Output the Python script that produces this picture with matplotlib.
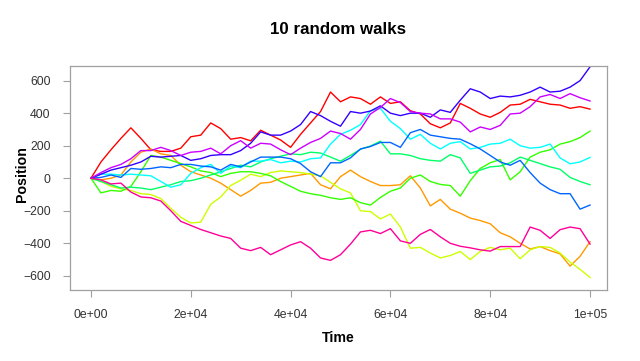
import numpy as np
import matplotlib
matplotlib.use("Agg")
from matplotlib import pyplot as plt

plt.rcParams['font.family'] = ['Liberation Sans', 'DejaVu Sans']

# time points (every 2000 steps) and positions
steps = np.arange(0, 100001, 2000)

red = [0, 100, 175, 245, 310, 245, 175, 165, 165, 185, 255, 265, 340, 305, 240, 250, 230,
       295, 265, 235, 190, 270, 340, 410, 530, 470, 500, 490, 455, 500, 460, 470, 415, 395,
       335, 310, 340, 460, 430, 395, 375, 405, 450, 455, 485, 470, 455, 450, 430, 440, 425]
orange = [0, -10, 0, 20, 100, 160, 180, 150, 140, 80, 40, 20, 0, -30, -70, -110, -75,
          -30, -25, 0, 10, 20, 30, -40, -65, 10, 50, 10, -20, -45, -45, -40, 15, -60,
          -170, -130, -190, -215, -245, -260, -280, -335, -360, -400, -435, -420, -445,
          -465, -540, -480, -390]
yellowgreen = [0, -20, -50, -65, -75, -95, -100, -125, -185, -240, -275, -270, -160, -115,
               -45, -12, 25, 10, 35, 45, 40, 35, 25, 15, -25, -65, -90, -200, -205, -250,
               -220, -300, -430, -425, -460, -490, -475, -450, -500, -450, -425, -440,
               -430, -495, -440, -420, -425, -460, -515, -560, -610]
green = [0, -90, -75, -80, -50, 40, 140, 130, 110, 90, 70, 45, 35, 10, 30, 40, 40, 30, 15,
         -20, -50, -80, -95, -105, -120, -130, -120, -150, -165, -118, -80, -60, 0, 20,
         -20, -38, -45, -110, -15, 60, 95, 115, -10, 40, 130, 160, 175, 210, 225, 250, 290]
green2 = [0, -20, -40, -60, -55, -60, -70, -55, -40, -20, -15, 0, 20, 40, 60, 80, 70, 100,
          120, 135, 150, 145, 160, 155, 130, 105, 140, 178, 198, 228, 150, 150, 140, 120,
          110, 105, 145, 125, 30, 50, 70, 75, 95, 130, 110, 90, 70, 55, 5, -20, -40]
cyan = [0, 25, 25, 20, 25, 20, 15, -20, -55, -40, 30, 65, 85, 30, 75, 65, 105, 105, 115,
        95, 105, 100, 120, 125, 210, 270, 295, 330, 415, 430, 350, 305, 240, 270, 215, 180,
        215, 225, 180, 190, 210, 215, 240, 200, 185, 190, 210, 125, 89, 100, 128]
blue = [0, 5, 20, 5, 60, 55, 60, 70, 65, 85, 85, 75, 70, 50, 85, 70, 100, 130, 130, 130,
        120, 90, 40, 10, 95, 95, 125, 180, 195, 220, 220, 190, 280, 300, 265, 255, 245,
        240, 212, 180, 140, 100, 80, 110, 35, -30, -70, -95, -95, -190, -165]
darkblue = [0, 25, 50, 65, 80, 100, 135, 130, 135, 140, 110, 120, 140, 145, 145, 170, 215,
            285, 265, 265, 290, 330, 410, 385, 350, 320, 410, 400, 413, 445, 400, 385, 400,
            400, 375, 420, 405, 480, 550, 530, 490, 505, 500, 510, 530, 560, 530, 535, 560,
            600, 685]
purple = [0, 35, 65, 85, 120, 170, 170, 190, 170, 140, 160, 165, 185, 150, 200, 231, 185,
          215, 210, 175, 145, 185, 220, 245, 290, 275, 240, 300, 395, 435, 490, 465, 410,
          400, 395, 365, 365, 345, 285, 315, 300, 325, 395, 400, 440, 500, 515, 490, 520,
          495, 475]
pink = [0, -10, -35, -30, -85, -115, -120, -140, -200, -265, -290, -315, -335, -355, -370,
        -430, -445, -425, -470, -440, -410, -390, -430, -490, -505, -470, -405, -330, -320,
        -340, -310, -385, -400, -345, -315, -360, -400, -418, -428, -440, -448, -420, -420,
        -420, -300, -320, -370, -316, -300, -310, -405]

walks = [red, orange, yellowgreen, green, green2, cyan, blue, darkblue, purple, pink]
colors = ['#FF0000', '#FF9900', '#CCFF00', '#33FF00', '#00FF66',
          '#00FFFF', '#0066FF', '#3300FF', '#CC00FF', '#FF0099']

xticks = [0, 20000, 40000, 60000, 80000, 100000]
xticklabels = ['0e+00', '2e+04', '4e+04', '6e+04', '8e+04', '1e+05']
yticks = [-600, -400, -200, 0, 200, 400, 600]

fig = plt.figure(figsize=(6.4, 3.61), dpi=100)
ax = fig.add_axes([70 / 640, 1 - 290 / 361, 537 / 640, 224 / 361])

for w, c in zip(walks, colors):
    ax.plot(steps, w, color=c, lw=1.0)

ax.set_xlim(-4200, 103400)
ax.set_ylim(-687, 690)
ax.set_xticks(xticks)
ax.set_xticklabels(xticklabels)
ax.set_yticks(yticks)
for s in ax.spines.values():
    s.set_color('#a0a0a0')
    s.set_linewidth(0.9)
ax.tick_params(direction='out', length=5, width=0.8, color='#a0a0a0',
               labelsize=8.8, labelcolor='#333333', pad=9)

fig.text(338 / 640, 1 - 30 / 361, '10 random walks', ha='center', va='center',
         fontsize=12.2, fontweight='bold')
fig.text(338 / 640, 1 - 338 / 361, 'Time', ha='center', va='center',
         fontsize=10.2, fontweight='bold')
fig.text(22 / 640, 1 - 174 / 361, 'Position', ha='center', va='center',
         rotation=90, fontsize=10.2, fontweight='bold')

fig.savefig('out.png', dpi=100)
